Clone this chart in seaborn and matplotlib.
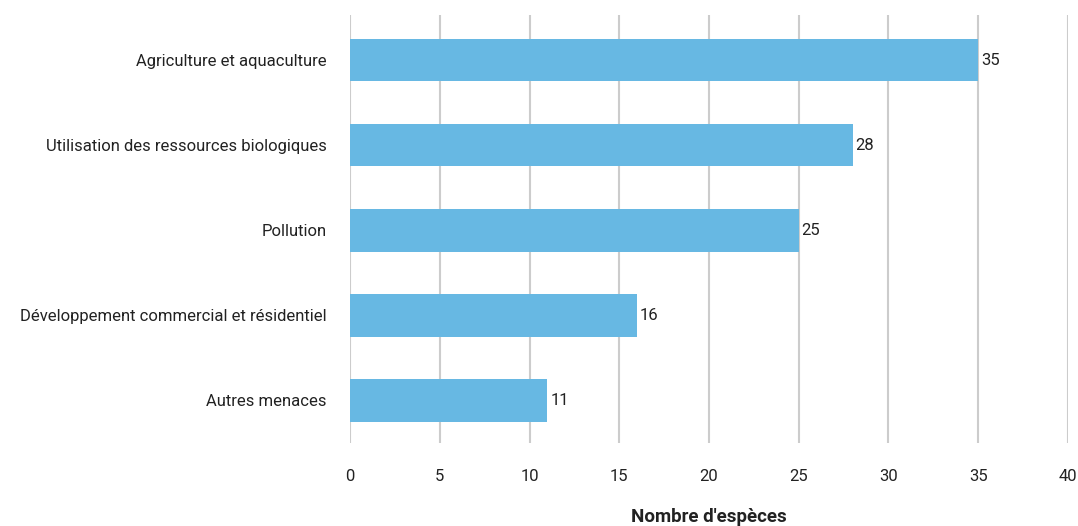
import matplotlib
matplotlib.use("Agg")
import matplotlib.pyplot as plt
from matplotlib import font_manager
import seaborn as sns
import pandas as pd

categories = [
    "Agriculture et aquaculture",
    "Utilisation des ressources biologiques",
    "Pollution",
    "Développement commercial et résidentiel",
    "Autres menaces",
]
values = [35, 28, 25, 16, 11]
x_ticks = [0, 5, 10, 15, 20, 25, 30, 35, 40]
x_label = "Nombre d'espèces"

sns.set_theme(style="white")
available = {f.name for f in font_manager.fontManager.ttflist}
family = "Liberation Sans Narrow" if "Liberation Sans Narrow" in available else "Roboto"
plt.rcParams["font.family"] = [family, "DejaVu Sans"]

df = pd.DataFrame({"menace": categories, "especes": values})

fig = plt.figure(figsize=(10.78, 5.26), dpi=100)
ax = fig.add_axes([0.3247, 0.1578, 0.666, 0.8137])

sns.barplot(data=df, y="menace", x="especes", color="#67B8E3", saturation=1,
            width=0.5, orient="h", ax=ax, zorder=3, linewidth=0)

ax.set_xlim(0, 40)
ax.set_ylim(4.5, -0.53)
ax.set_xticks(x_ticks)
ax.xaxis.grid(True, color="#CCCCCC", linewidth=1.5, zorder=0)
ax.yaxis.grid(False)
ax.set_axisbelow(True)
for s in ax.spines.values():
    s.set_visible(False)

ax.tick_params(axis="x", length=0, pad=19, labelsize=12, colors="#222222")
ax.tick_params(axis="y", length=0, pad=17, labelsize=12, colors="#222222")
ax.set_ylabel("")
ax.set_xlabel(x_label, fontsize=13.5, fontweight="bold", color="#222222", labelpad=17)

for i, v in enumerate(values):
    ax.text(v + 0.15, i, str(v), va="center", ha="left", fontsize=12, color="#222222")

fig.savefig("out.png", dpi=100)
